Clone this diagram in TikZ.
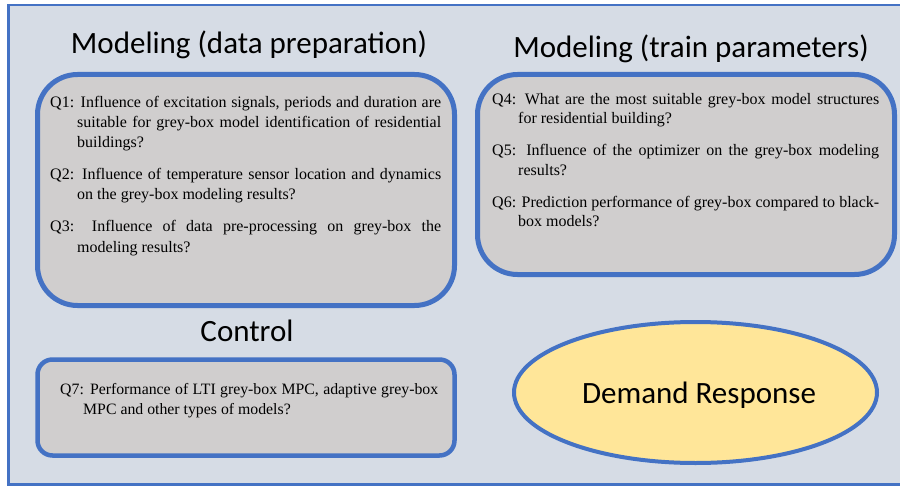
\documentclass[tikz,border=0pt]{standalone}
\usepackage{fontspec}
\setmainfont{Liberation Serif}
\newfontfamily\calibri{Carlito}
\usetikzlibrary{shapes.geometric}
\definecolor{bgblue}{HTML}{D6DCE5}
\definecolor{edgeblue}{HTML}{4472C4}
\definecolor{boxgrey}{HTML}{D0CECE}
\definecolor{dryellow}{HTML}{FFE699}
\newcommand{\qpar}[2]{\hangindent=#1\hangafter=1 #2\par}
\newcommand{\qsetup}[1]{\hyphenpenalty=10000 \tolerance=9999 \setlength{\parskip}{#1}\setlength{\parindent}{0pt}}
\begin{document}
\begin{tikzpicture}[x=1pt,y=-1pt,
  title/.style={font=\calibri\fontsize{31}{37}\selectfont, inner sep=0pt, anchor=base},
  qbox/.style={draw=edgeblue, line width=5pt, fill=boxgrey, rounded corners=40pt, inner sep=0pt},
  qtext/.style={inner sep=0pt, anchor=base west, align=justify,
    font={\fontsize{16}{20.3}\selectfont}},
]
\useasboundingbox (0,0) rectangle (900,487);
\fill[white] (0,0) rectangle (900,487);
\draw[draw=edgeblue, line width=2.5pt, fill=bgblue] (8.5,5) rectangle (912,484.5);

% titles
\node[title] (t1) at (249,53.5) {Modeling (data preparation)};
\node[title] (t2) at (691,57.5) {Modeling (train parameters)};
\node[title] (t3) at (247,341.5) {Control};

% boxes
\node[qbox, minimum width=417pt, minimum height=231pt] (b1) at (246,190) {};
\node[qbox, minimum width=417pt, minimum height=200pt] (b2) at (686,174.5) {};
\node[qbox, rounded corners=15pt, line width=4.5pt, minimum width=417pt, minimum height=96pt] (b3) at (246,407.5) {};
\node[ellipse, draw=edgeblue, line width=4pt, fill=dryellow, minimum width=363pt, minimum height=141pt, inner sep=0pt] (e) at (695.5,392.5) {};
\node[title] (dr) at (699,403) {Demand Response};

% question texts
\node[qtext, text width=391pt] (q1) at (50,107) {\qsetup{11.7pt}%
\qpar{27pt}{Q1: Influence of excitation signals, periods and duration are\linebreak suitable for grey-box model identification of residential\linebreak buildings?}
\qpar{27pt}{Q2: Influence of temperature sensor location and dynamics\linebreak on the grey-box modeling results?}
\qpar{27pt}{Q3: Influence of data pre-processing on grey-box the\linebreak modeling results?}};

\node[qtext, text width=387pt, font={\fontsize{16}{19.8}\selectfont}] (q2) at (492,104) {\qsetup{12pt}%
\qpar{26pt}{Q4: What are the most suitable grey-box model structures\linebreak for residential building?}
\qpar{26pt}{Q5: Influence of the optimizer on the grey-box modeling\linebreak results?}
\qpar{26pt}{Q6: Prediction performance of grey-box compared to black-\linebreak box models?}};

\node[qtext, text width=378pt, font={\fontsize{15.8}{20}\selectfont}] (q3) at (60,394) {\qsetup{0pt}%
\qpar{23pt}{Q7: Performance of LTI grey-box MPC, adaptive grey-box\linebreak MPC and other types of models?}};
\end{tikzpicture}
\end{document}
